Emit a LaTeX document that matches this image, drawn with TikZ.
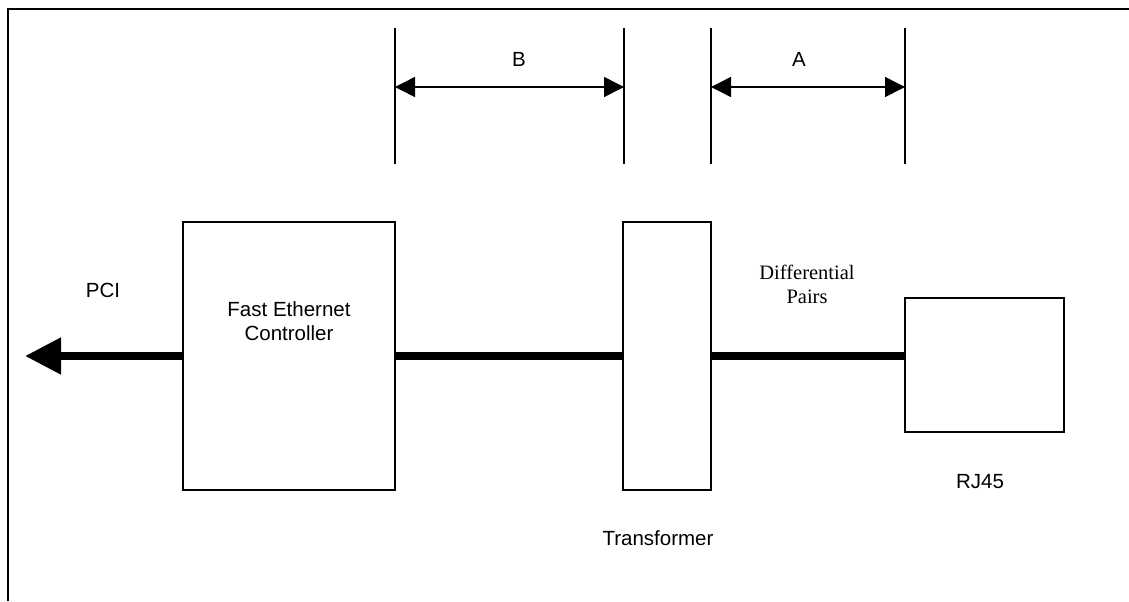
\documentclass[tikz,border=0pt]{standalone}
\usepackage{fontspec}
\setmainfont{Liberation Sans}
\newfontfamily\serifa{Liberation Serif}
\usetikzlibrary{arrows.meta}
\begin{document}
\begin{tikzpicture}[x=0.5pt,y=-0.5pt,
  every node/.style={font=\fontsize{10.25}{12}\selectfont, inner sep=0pt},
  blk/.style={draw, line width=1pt, fill=white},
  bus/.style={line width=4pt},
  dimline/.style={line width=0.75pt},
  dimarrow/.style={line width=0.75pt, {Triangle[length=10pt,width=10pt]}-{Triangle[length=10pt,width=10pt]}},
  lbl/.style={align=center}
]
\useasboundingbox (0,0) rectangle (1129,601);
% frame (cut off at right and bottom)
\draw[line width=1pt] (8,601) -- (8,9) -- (1129,9);

% dimension lines
\coordinate (b1t) at (395,28);  \coordinate (b1b) at (395,164);
\coordinate (b2t) at (624,28);  \coordinate (b2b) at (624,164);
\coordinate (a1t) at (711,28);  \coordinate (a1b) at (711,164);
\coordinate (a2t) at (905,28);  \coordinate (a2b) at (905,164);
\draw[dimline] (b1t) -- (b1b);
\draw[dimline] (b2t) -- (b2b);
\draw[dimline] (a1t) -- (a1b);
\draw[dimline] (a2t) -- (a2b);
\coordinate (bl) at (395,87); \coordinate (br) at (624,87);
\coordinate (al) at (711,87); \coordinate (ar) at (905,87);
\draw[dimarrow] (bl) -- (br);
\draw[dimarrow] (al) -- (ar);
\node (blabel) at (519,59) {B};
\node (alabel) at (799,59) {A};

% blocks
\node[blk, minimum width=106pt, minimum height=134pt] (fec) at (289,356) {};
\node[lbl] (fectext) at (289,321) {Fast Ethernet\\Controller};
\node[blk, minimum width=44pt, minimum height=134pt] (trans) at (667,356) {};
\node[blk, minimum width=79.5pt, minimum height=67pt] (rj) at (984.5,365) {};

% buses
\coordinate (pcitip) at (25,356);
\draw[bus, -{Triangle[length=18pt,width=17.5pt]}] (fec.west) -- (pcitip);
\draw[bus] (fec.east) -- (trans.west);
\draw[bus] (trans.east) -- (trans.east -| rj.west);

% labels
\node (pci) at (103,290) {PCI};
\node[lbl, font=\serifa\fontsize{10.25}{12}\selectfont] (diff) at (807,284) {Differential\\Pairs};
\node (translabel) at (658,538) {Transformer};
\node (rjlabel) at (980,482) {RJ45};
\end{tikzpicture}
\end{document}
